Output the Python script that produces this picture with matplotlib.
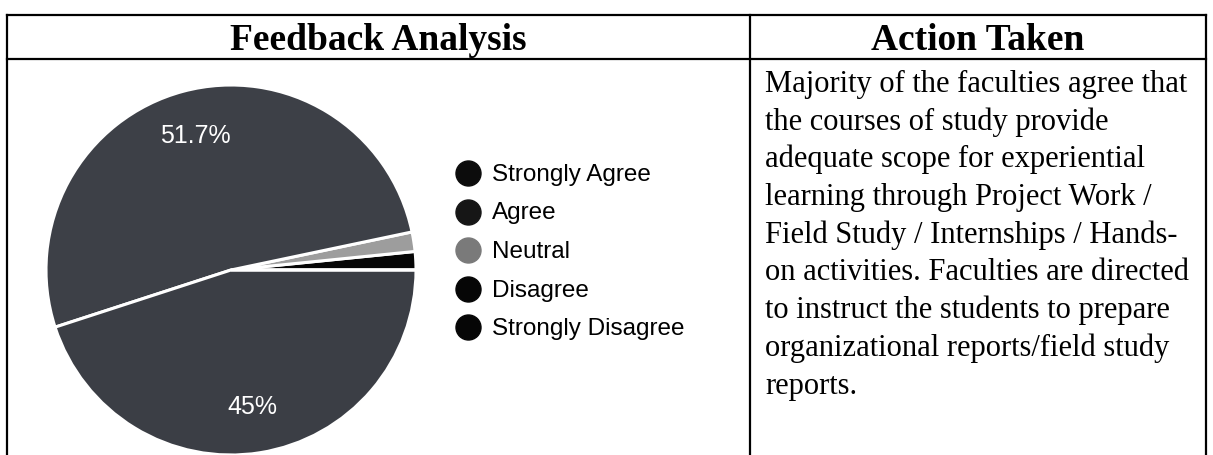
import matplotlib.pyplot as plt

# feedback shares (percent), in legend order
labels = ["Strongly Agree", "Agree", "Neutral", "Disagree", "Strongly Disagree"]
shares = [51.7, 45.0, 1.7, 1.6, 0.0]
slice_colors = ["#3d4047", "#3b3e45", "#9d9d9d", "#060606", "#101010"]
marker_colors = ["#0c0c0c", "#161616", "#7a7a7a", "#060606", "#060606"]
# order the slices are drawn in, counter-clockwise from 3 o'clock
draw_order = [3, 2, 0, 1, 4]

header_left = "Feedback Analysis"
header_right = "Action Taken"
action_lines = [
    "Majority of the faculties agree that",
    "the courses of study provide",
    "adequate scope for experiential",
    "learning through Project Work /",
    "Field Study / Internships / Hands-",
    "on activities. Faculties are directed",
    "to instruct the students to prepare",
    "organizational reports/field study",
    "reports.",
]

W, H = 1213, 455
fig = plt.figure(figsize=(W / 100, H / 100), dpi=100)
fig.patch.set_facecolor("white")

# page axes in pixel coordinates (y down)
page = fig.add_axes([0, 0, 1, 1])
page.set_xlim(0, W)
page.set_ylim(H, 0)
page.axis("off")

# table grid
x_left, x_mid, x_right = 7, 750, 1206
y_top, y_head = 15, 59
lw = 1.6
page.plot([x_left, x_right], [y_top, y_top], color="black", lw=lw)
page.plot([x_left, x_right], [y_head, y_head], color="black", lw=lw)
for x in (x_left, x_mid, x_right):
    page.plot([x, x], [y_top, H], color="black", lw=lw)

page.text((x_left + x_mid) / 2, 50, header_left, fontsize=27, weight="bold",
          family="Liberation Serif", ha="center", va="baseline")
page.text((x_mid + x_right) / 2, 50, header_right, fontsize=27, weight="bold",
          family="Liberation Serif", ha="center", va="baseline")

for i, line in enumerate(action_lines):
    page.text(765, 92 + i * 37.7, line, fontsize=22, family="Liberation Serif",
              ha="left", va="baseline")

# pie
cx, cy, r = 231, 270, 185
pie_ax = fig.add_axes([(cx - r) / W, (H - cy - r) / H, 2 * r / W, 2 * r / H])


def fmt(p):
    if p < 5:
        return ""
    return f"{p:.1f}".rstrip("0").rstrip(".") + "%"


pie_ax.pie([shares[i] for i in draw_order],
           colors=[slice_colors[i] for i in draw_order],
           startangle=0, counterclock=True, autopct=fmt, pctdistance=0.75,
           wedgeprops=dict(edgecolor="white", linewidth=2.2),
           textprops=dict(color="white", fontsize=18, family="Liberation Sans"))
pie_ax.set_xlim(-1, 1)
pie_ax.set_ylim(-1, 1)
pie_ax.axis("off")

# legend
leg_x, leg_y0, leg_dy = 468, 173, 38.5
for i, lab in enumerate(labels):
    y = leg_y0 + i * leg_dy
    page.plot(leg_x, y, "o", ms=18, color=marker_colors[i])
    page.text(492, y + 8, lab, fontsize=17.5, family="Liberation Sans",
              ha="left", va="baseline")

fig.savefig("out.png", dpi=100)
